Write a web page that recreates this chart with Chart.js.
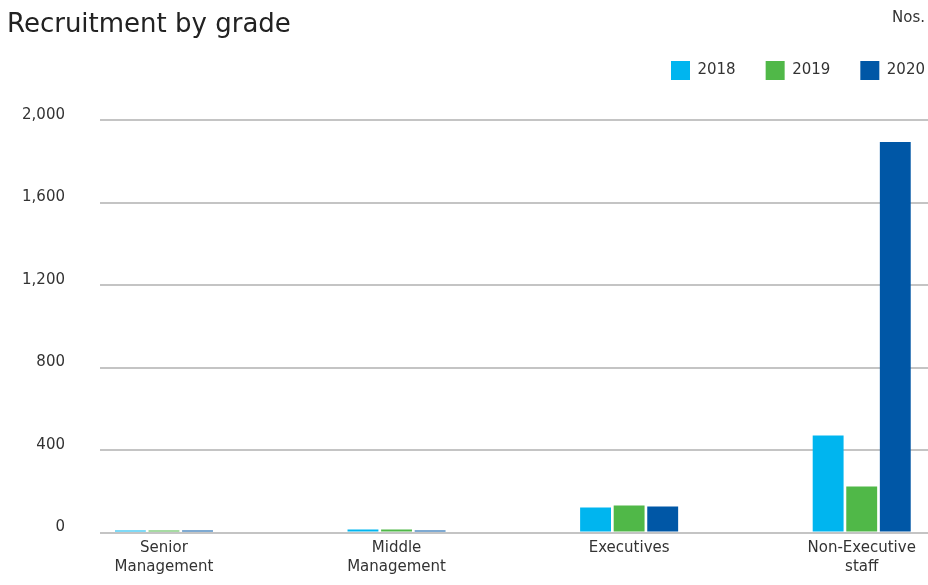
<!DOCTYPE html>
<html>
<head>
<meta charset="utf-8">
<script src="https://cdn.jsdelivr.net/npm/chart.js@4"></script>
<style>
  html, body { margin: 0; padding: 0; background: #fff; }
  #wrap { position: relative; width: 928px; height: 585px; }
  #chart { position: absolute; left: 0; top: 0; }
  #title {
    position: absolute; left: 7px; top: 10px;
    font: 26px/26px "DejaVu Sans", sans-serif; color: #222;
    white-space: nowrap;
  }
  #unit {
    position: absolute; right: 3px; top: 10px;
    font: 15px/15px "DejaVu Sans", sans-serif; color: #333;
  }
</style>
</head>
<body>
<div id="wrap">
  <canvas id="chart" width="928" height="585"></canvas>
  <div id="title">Recruitment by grade</div>
  <div id="unit">Nos.</div>
</div>
<script>
'use strict';

// data
const categories = [['Senior', 'Management'], ['Middle', 'Management'], 'Executives', ['Non-Executive', 'staff']];
const seriesNames = ['2018', '2019', '2020'];
const values2018 = [10, 14, 121, 470];
const values2019 = [10, 14, 131, 223];
const values2020 = [10, 10, 126, 1893];
const yTicks = [0, 400, 800, 1200, 1600, 2000];

const colors = ['#00b5ef', '#50b848', '#0057a6'];
const textColor = '#333';
const fontFamily = '"DejaVu Sans", sans-serif';

const ctx = document.getElementById('chart').getContext('2d');

const allValues = [values2018, values2019, values2020];
const datasets = [];
for (let i = 0; i < seriesNames.length; i++) {
  datasets.push({
    label: seriesNames[i],
    data: allValues[i],
    backgroundColor: colors[i],
    borderWidth: 0,
    categoryPercentage: 0.433,
    barPercentage: 0.92
  });
}

// more room under the legend, and push the legend row flush right
const legendSpacing = {
  id: 'legendSpacing',
  beforeLayout(chart) {
    const legend = chart.legend;
    if (!legend || legend._patched) return;
    const fit = legend.fit;
    legend.fit = function () {
      fit.call(this);
      this.height += 30;
    };
    legend._patched = true;
  },
  afterLayout(chart) {
    if (chart.legend) {
      chart.legend.right += 27;
    }
  }
};

new Chart(ctx, {
  type: 'bar',
  data: {
    labels: categories,
    datasets: datasets
  },
  plugins: [legendSpacing],
  options: {
    responsive: false,
    animation: false,
    layout: {
      padding: { left: 0, right: 0, top: 31, bottom: 3 }
    },
    plugins: {
      title: { display: false },
      legend: {
        position: 'top',
        align: 'end',
        labels: {
          color: textColor,
          font: { family: fontFamily, size: 15 },
          boxWidth: 19,
          boxHeight: 19,
          padding: 30
        }
      },
      tooltip: { enabled: false }
    },
    scales: {
      x: {
        offset: false,
        grid: { display: false, drawTicks: false },
        border: { display: false },
        ticks: {
          color: textColor,
          font: { family: fontFamily, size: 15, lineHeight: 1.25 },
          maxRotation: 0,
          padding: 6
        },
        // stretch the category range a little so groups sit like the original
        afterBuildTicks: function (scale) {
          scale._startValue = -0.275;
          scale._valueRange = categories.length - 1 + 0.56;
        }
      },
      y: {
        min: 0,
        max: 2000,
        afterBuildTicks: function (scale) {
          scale.ticks = yTicks.map(v => ({ value: v }));
        },
        afterFit: function (scale) {
          scale.width = 100;
        },
        grid: {
          color: '#c4c4c4',
          lineWidth: 2,
          drawTicks: false
        },
        border: { display: false },
        ticks: {
          color: textColor,
          font: { family: fontFamily, size: 15 },
          padding: 35,
          labelOffset: -5
        }
      }
    }
  }
});
</script>
</body>
</html>
